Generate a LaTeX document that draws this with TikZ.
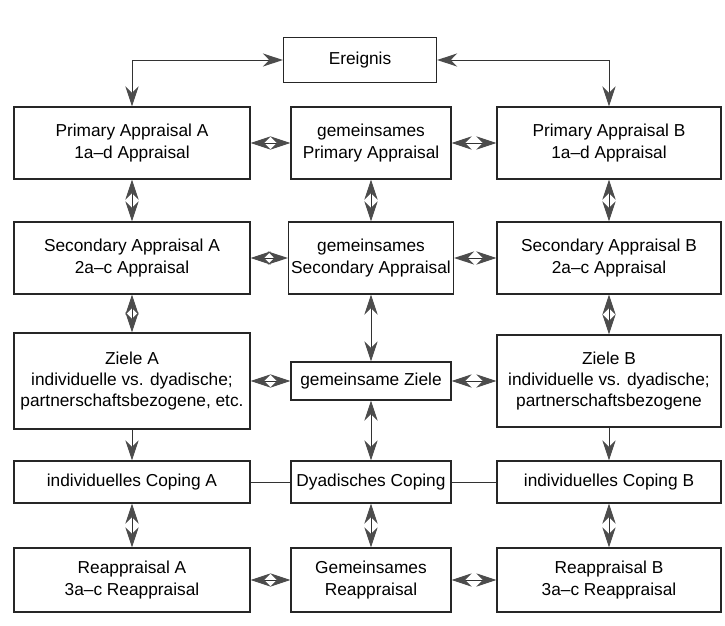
\documentclass[tikz,border=0pt]{standalone}
\usepackage{fontspec}
\setmainfont{Liberation Sans}
\usetikzlibrary{arrows.meta}
\tikzset{hd/.tip={Stealth[length=5mm,width=3.3mm,inset=1.6mm,color=black!70]}}
\def\both{\draw[link,hd-hd]}
\def\down{\draw[link,-hd]}

\begin{document}
\begin{tikzpicture}[x=0.025cm,y=-0.025cm,
    box/.style={draw=black!85,line width=0.8pt,align=center,inner sep=2pt,
      font=\fontsize{12.3}{15}\selectfont},
    lbox/.style={box,minimum width=5.9cm},
    mbox/.style={box,minimum width=4.0cm},
    rbox/.style={box,minimum width=5.6cm},
    link/.style={draw=black!80,line width=0.7pt}]
  \useasboundingbox (0,0) rectangle (725,626);
  % event
  \node[box,minimum width=3.83cm,minimum height=1.12cm] (ev) at (360,60) {Ereignis};
  % row 1
  \node[lbox,minimum height=1.8cm] (pa) at (132,143) {Primary Appraisal A\\1a--d Appraisal};
  \node[mbox,minimum height=1.8cm] (pm) at (371,143) {gemeinsames\\Primary Appraisal};
  \node[rbox,minimum height=1.8cm] (pb) at (609,143) {Primary Appraisal B\\1a--d Appraisal};
  % row 2
  \node[lbox,minimum height=1.8cm] (sa) at (132,258) {Secondary Appraisal A\\2a--c Appraisal};
  \node[mbox,minimum height=1.8cm] (sm) at (371,258) {gemeinsames\\Secondary Appraisal};
  \node[rbox,minimum height=1.8cm] (sb) at (609,258) {Secondary Appraisal B\\2a--c Appraisal};
  % row 3
  \node[lbox,minimum height=2.4cm] (za) at (132,381) {Ziele A\\individuelle vs. dyadische;\\partnerschaftsbezogene, etc.};
  \node[mbox,minimum height=0.95cm] (zm) at (371,381) {gemeinsame Ziele};
  \node[rbox,minimum height=2.3cm] (zb) at (609,381) {Ziele B\\individuelle vs. dyadische;\\partnerschaftsbezogene};
  % row 4
  \node[lbox,minimum height=1.05cm] (ca) at (132,482) {individuelles Coping A};
  \node[mbox,minimum height=1.05cm] (cm) at (371,482) {Dyadisches Coping};
  \node[rbox,minimum height=1.05cm] (cb) at (609,482) {individuelles Coping B};
  % row 5
  \node[lbox,minimum height=1.6cm] (ra) at (132,580) {Reappraisal A\\3a--c Reappraisal};
  \node[mbox,minimum height=1.6cm] (rm) at (371,580) {Gemeinsames\\Reappraisal};
  \node[rbox,minimum height=1.6cm] (rb) at (609,580) {Reappraisal B\\3a--c Reappraisal};

  \both (ev.west) -| (pa.north);
  \both (ev.east) -| (pb.north);
  \both (pa) -- (pm);
  \both (pm) -- (pb);
  \both (sa) -- (sm);
  \both (sm) -- (sb);
  \both (za) -- (zm);
  \both (zm) -- (zb);
  \both (ra) -- (rm);
  \both (rm) -- (rb);
  \draw[link] (ca) -- (cm) -- (cb);
  \both (pa) -- (sa);
  \both (pm) -- (sm);
  \both (pb) -- (sb);
  \both (sa) -- (za);
  \both (sm) -- (zm);
  \both (sb) -- (zb);
  \down (za) -- (ca);
  \both (zm) -- (cm);
  \down (zb) -- (cb);
  \both (ca) -- (ra);
  \both (cm) -- (rm);
  \both (cb) -- (rb);
\end{tikzpicture}
\end{document}
